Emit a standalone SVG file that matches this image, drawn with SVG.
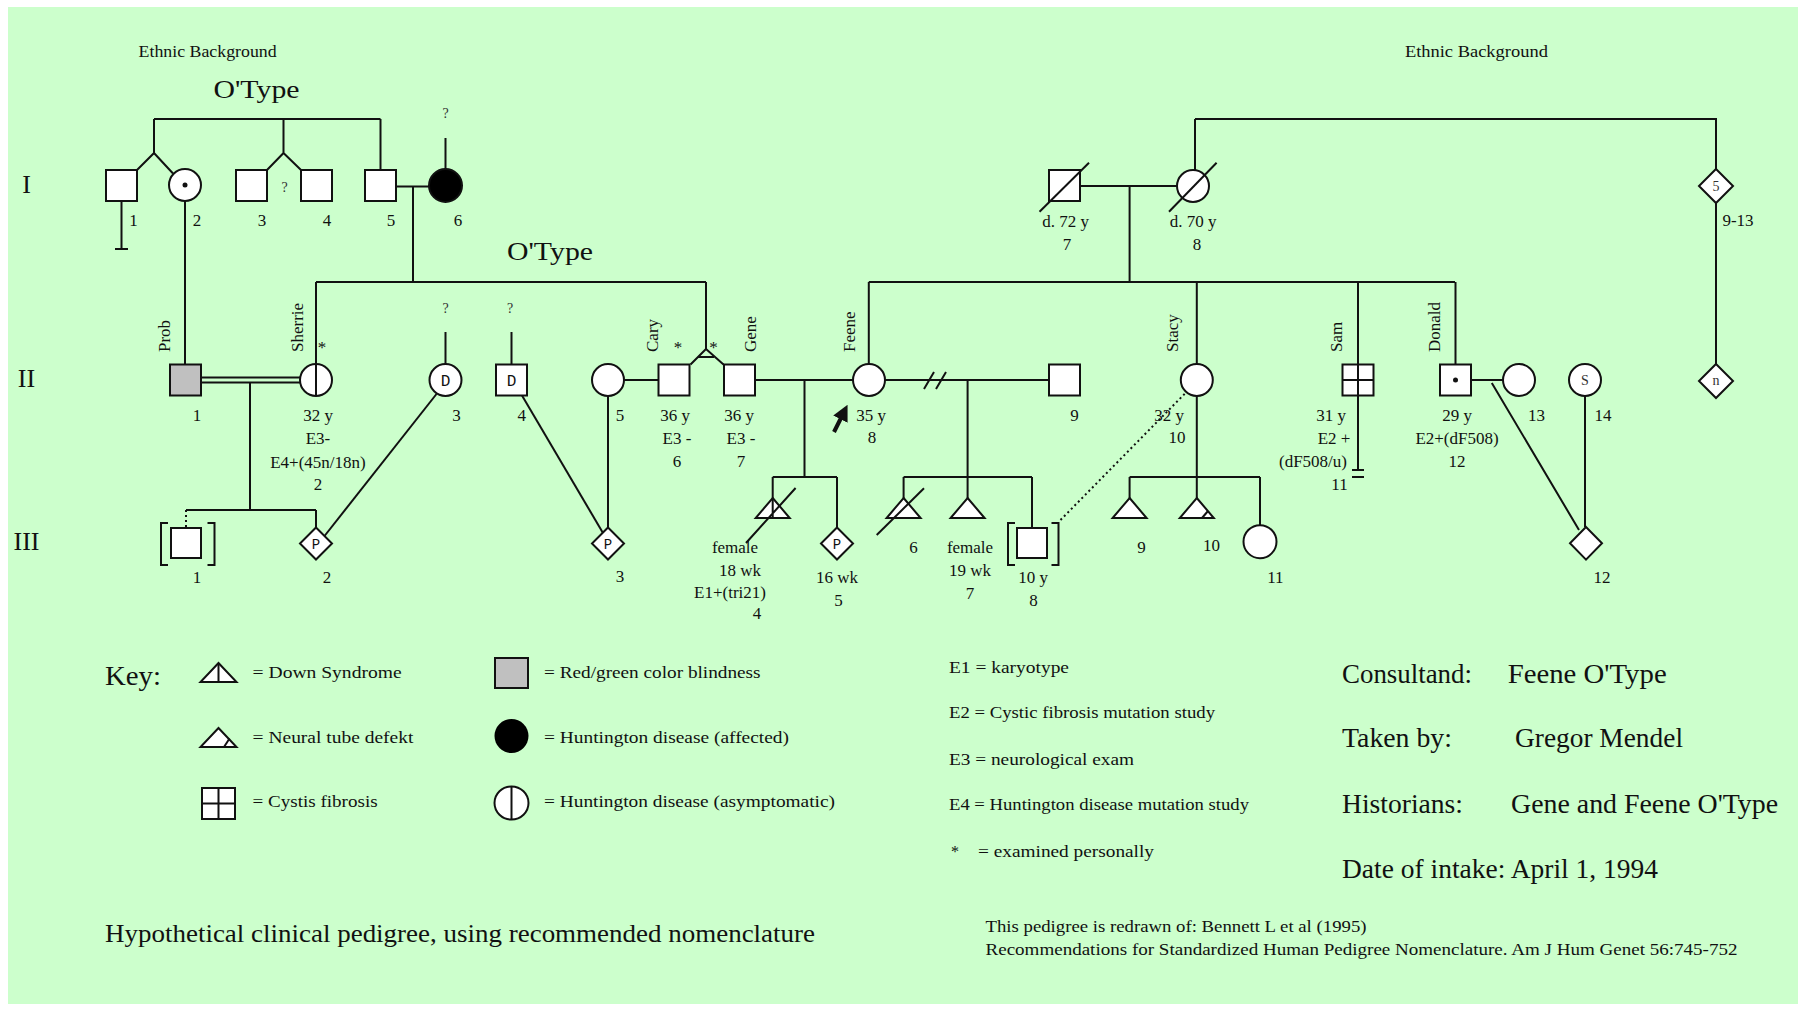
<svg xmlns="http://www.w3.org/2000/svg" width="1806" height="1010" viewBox="0 0 1806 1010">
<defs>
<style>
.ln{stroke:#111;stroke-width:2;fill:none}
.dl{stroke:#111;stroke-width:2;fill:none;stroke-dasharray:2 3}
.sym{stroke:#111;stroke-width:2;fill:#fff}
.t{font-family:"Liberation Serif","Times New Roman",serif;font-size:17px;fill:#111}
.tc{font-family:"Liberation Serif","Times New Roman",serif;font-size:17px;fill:#111;text-anchor:middle}
.s{font-family:"Liberation Serif","Times New Roman",serif;font-size:16px;fill:#111}
.L{font-family:"Liberation Serif","Times New Roman",serif;font-size:27px;fill:#111}
.Lc{font-family:"Liberation Serif","Times New Roman",serif;font-size:26px;fill:#111;text-anchor:middle}
.m{font-family:"Liberation Mono","Courier New",monospace;font-size:16px;fill:#111;text-anchor:middle}
.in{font-family:"Liberation Serif","Times New Roman",serif;font-size:14px;fill:#333;text-anchor:middle}
</style>
<marker id="arr" viewBox="0 0 10 10" refX="5" refY="5" markerWidth="4" markerHeight="4" orient="auto"><path d="M0,0 L10,5 L0,10 z" fill="#111"/></marker>
</defs>
<rect x="0" y="0" width="1806" height="1010" fill="#fff"/>
<rect x="8" y="7" width="1790" height="997" fill="#ccffcc"/>

<!-- labels -->
<g id="headers">
<text class="s" x="207.6" y="57" text-anchor="middle" textLength="138" lengthAdjust="spacingAndGlyphs">Ethnic Background</text>
<text class="s" x="1476.4" y="57" text-anchor="middle" textLength="143" lengthAdjust="spacingAndGlyphs">Ethnic Background</text>
<text class="Lc" x="256.5" y="98" textLength="86" lengthAdjust="spacingAndGlyphs">O'Type</text>
<text class="Lc" x="550" y="260" textLength="86" lengthAdjust="spacingAndGlyphs">O'Type</text>
<text class="Lc" x="26.5" y="193">I</text>
<text class="Lc" x="26.5" y="387">II</text>
<text class="Lc" x="26.5" y="550">III</text>
</g>

<!-- connectors -->
<g id="connectors">
<path class="ln" d="M154,119 H380.5"/>
<path class="ln" d="M154,119 V153 L137,170 M154,153 L173,173.5"/>
<path class="ln" d="M283.5,119 V153 L267,170 M283.5,153 L301,170"/>
<path class="ln" d="M380.5,119 V170"/>
<path class="ln" d="M121.5,200 V249 M115,249 H128"/>
<path class="ln" d="M185,201 V364.5"/>
<path class="ln" d="M445.5,138 V169"/>
<path class="ln" d="M396,186.5 H429.5"/>
<path class="ln" d="M413,186.5 V282"/>
<path class="ln" d="M1195,119 H1716 V169"/>
<path class="ln" d="M1195,119 V170"/>
<path class="ln" d="M1080,186 H1177"/>
<path class="ln" d="M1129.6,186 V282"/>
<path class="ln" d="M1716,203 V364"/>
<path class="ln" d="M316,282 H706 M316,282 V364 M706,282 V349"/>
<path class="ln" d="M706,349 L690.5,364.5 M706,349 L723.5,364.5 M698,357 H714"/>
<path class="ln" d="M868.8,282 H1455 M868.8,282 V364 M1196.8,282 V364 M1358,282 V364.5 M1455.5,282 V364.5"/>
<path class="ln" d="M201,377.5 H300 M201,382.5 H300"/>
<path class="ln" d="M250,382.5 V510 M186,510 H316 M316,510 V527.5"/>
<path class="dl" d="M186,510 V528"/>
<path class="ln" d="M445.5,332 V364 M511.5,332 V364.5"/>
<path class="ln" d="M436.5,394 L324.5,536"/>
<path class="ln" d="M522,395.5 L603,533"/>
<path class="ln" d="M624,380 H658 M608,396 V527.5"/>
<path class="ln" d="M755,380 H853 M804.5,380 V477 M772.7,477 H837 M772.7,477 V498 M837,477 V527.5"/>
<path class="ln" d="M885,380 H1049 M967.6,380 V477 M903.6,477 H1032 M903.6,477 V498 M967.6,477 V498 M1032,477 V528"/>
<path class="ln" d="M924,389 L934,372 M936,389 L946,372"/>
<path class="dl" d="M1060.5,520 L1185,393.5"/>
<path class="ln" d="M1196.8,396 V498 M1129.6,477 H1260 M1129.6,477 V498 M1260,477 V525"/>
<path class="ln" d="M1358,395.5 V470 M1352,470 H1364 M1352,477 H1364"/>
<path class="ln" d="M1471,380 H1503 M1491.8,383 L1579,530"/>
<path class="ln" d="M1585,396 V527"/>
<path d="M834,432 L844,412" stroke="#111" stroke-width="4" fill="none" marker-end="url(#arr)"/>
</g>

<!-- Generation I -->
<g id="I-1"><rect class="sym" x="106" y="170" width="31" height="31"/><text class="tc" x="133.6" y="226">1</text></g>
<g id="I-2"><circle class="sym" cx="185" cy="185" r="16"/><circle cx="185" cy="185" r="2.5" fill="#111"/><text class="tc" x="197" y="226">2</text></g>
<g id="I-3"><rect class="sym" x="236" y="170" width="31" height="31"/><text class="tc" x="262" y="226">3</text></g>
<g id="I-3-4-q"><text class="in" x="284.5" y="192">?</text></g>
<g id="I-4"><rect class="sym" x="301" y="170" width="31" height="31"/><text class="tc" x="327" y="226">4</text></g>
<g id="I-5"><rect class="sym" x="365" y="170" width="31" height="31"/><text class="tc" x="391" y="226">5</text></g>
<g id="I-6"><circle cx="445.5" cy="185.5" r="16.5" fill="#000" stroke="#111" stroke-width="2"/><text class="in" x="445.5" y="118">?</text><text class="tc" x="458" y="226">6</text></g>
<g id="I-7"><rect class="sym" x="1049" y="170" width="31" height="31"/><path class="ln" d="M1039.5,211.7 L1089,162.7"/><text class="tc" x="1065.6" y="226.5">d. 72 y</text><text class="tc" x="1067" y="250">7</text></g>
<g id="I-8"><circle class="sym" cx="1193" cy="186" r="16"/><path class="ln" d="M1169,211.7 L1216.6,162.7"/><text class="tc" x="1193" y="226.5">d. 70 y</text><text class="tc" x="1197" y="250">8</text></g>
<g id="I-9-13"><path class="sym" d="M1716,169 L1733,186 L1716,203 L1699,186 Z"/><text class="in" x="1716" y="191">5</text><text class="tc" x="1738" y="226">9-13</text></g>

<!-- Generation II -->
<g id="II-1"><rect x="170" y="364.5" width="31" height="31" fill="#c0c0c0" stroke="#111" stroke-width="2"/><text class="t" transform="translate(170,352) rotate(-90)">Prob</text><text class="tc" x="197" y="421">1</text></g>
<g id="II-2"><circle class="sym" cx="316" cy="380" r="16"/><path class="ln" d="M316,364 V396"/><text class="t" transform="translate(303,352) rotate(-90)">Sherrie</text><text class="tc" x="322" y="352.5">*</text>
<text class="tc" x="318" y="421">32 y</text><text class="tc" x="318" y="444">E3-</text><text class="tc" x="318" y="467.5">E4+(45n/18n)</text><text class="tc" x="318" y="489.5">2</text></g>
<g id="II-3"><circle class="sym" cx="445.5" cy="380" r="16"/><text class="m" x="445.5" y="385.5">D</text><text class="in" x="445.5" y="313">?</text><text class="tc" x="456.5" y="421">3</text></g>
<g id="II-4"><rect class="sym" x="496" y="364.5" width="31" height="31"/><text class="m" x="511.5" y="385.5">D</text><text class="in" x="510" y="313">?</text><text class="tc" x="521.7" y="421">4</text></g>
<g id="II-5"><circle class="sym" cx="608" cy="380" r="16"/><text class="tc" x="620" y="421">5</text></g>
<g id="II-6"><rect class="sym" x="658.5" y="364.5" width="31" height="31"/><text class="t" transform="translate(658,352) rotate(-90)">Cary</text><text class="tc" x="678" y="352.5">*</text>
<text class="tc" x="675" y="421">36 y</text><text class="tc" x="677" y="444">E3 -</text><text class="tc" x="677" y="466.5">6</text></g>
<g id="II-7"><rect class="sym" x="724" y="364.5" width="31" height="31"/><text class="t" transform="translate(756,352) rotate(-90)">Gene</text><text class="tc" x="713.5" y="352.5">*</text>
<text class="tc" x="739" y="421">36 y</text><text class="tc" x="741" y="444">E3 -</text><text class="tc" x="741" y="466.5">7</text></g>
<g id="II-8"><circle class="sym" cx="869" cy="380" r="16"/><text class="t" transform="translate(855,352) rotate(-90)">Feene</text><text class="tc" x="871" y="421">35 y</text><text class="tc" x="872" y="443">8</text></g>
<g id="II-9"><rect class="sym" x="1049" y="364.5" width="31" height="31"/><text class="tc" x="1074.5" y="421">9</text></g>
<g id="II-10"><circle class="sym" cx="1196.8" cy="380" r="16"/><text class="t" transform="translate(1178,352) rotate(-90)">Stacy</text><text class="tc" x="1169" y="421">32 y</text><text class="tc" x="1177" y="443">10</text></g>
<g id="II-11"><rect class="sym" x="1342.5" y="364.5" width="31" height="31"/><path class="ln" d="M1358,364.5 V395.5 M1342.5,380 H1373.5"/><text class="t" transform="translate(1342,352) rotate(-90)">Sam</text>
<text class="tc" x="1331" y="421">31 y</text><text class="tc" x="1334" y="443.5">E2 +</text><text class="tc" x="1313" y="467">(dF508/u)</text><text class="tc" x="1339.5" y="489.5">11</text></g>
<g id="II-12"><rect class="sym" x="1440" y="364.5" width="31" height="31"/><circle cx="1455.5" cy="380" r="2.5" fill="#111"/><text class="t" transform="translate(1440,352) rotate(-90)">Donald</text>
<text class="tc" x="1457" y="421">29 y</text><text class="tc" x="1457" y="444">E2+(dF508)</text><text class="tc" x="1457" y="467">12</text></g>
<g id="II-13"><circle class="sym" cx="1519" cy="380" r="16"/><text class="tc" x="1536.5" y="421">13</text></g>
<g id="II-14"><circle class="sym" cx="1585" cy="380" r="16"/><text class="in" x="1585" y="385">S</text><text class="tc" x="1603" y="421">14</text></g>
<g id="II-n"><path class="sym" d="M1716,364 L1733,381 L1716,398 L1699,381 Z"/><text class="in" x="1716" y="385">n</text></g>

<!-- Generation III -->
<g id="III-1"><rect class="sym" x="171" y="528" width="30" height="30"/><path class="ln" d="M168,523 H161 V565 H168 M207.5,523 H214.5 V565 H207.5"/><text class="tc" x="197" y="582.5">1</text></g>
<g id="III-2"><path class="sym" d="M316,527.5 L332,543.5 L316,559.5 L300,543.5 Z"/><text class="m" x="316" y="548.5" style="font-size:14px">P</text><text class="tc" x="327" y="582.5">2</text></g>
<g id="III-3"><path class="sym" d="M608,527.5 L624,543.5 L608,559.5 L592,543.5 Z"/><text class="m" x="608" y="548.5" style="font-size:14px">P</text><text class="tc" x="620" y="582">3</text></g>
<g id="III-4"><path class="sym" d="M772.7,498 L789.7,518 L755.7,518 Z"/><path class="ln" d="M772.7,498 V518 M746,543 L795.6,488"/>
<text class="tc" x="735" y="552.5">female</text><text class="tc" x="740" y="576">18 wk</text><text class="tc" x="730" y="597.5">E1+(tri21)</text><text class="tc" x="757" y="619">4</text></g>
<g id="III-5"><path class="sym" d="M837,527.5 L853,543.5 L837,559.5 L821,543.5 Z"/><text class="m" x="837" y="548.5" style="font-size:14px">P</text><text class="tc" x="837" y="582.5">16 wk</text><text class="tc" x="838.5" y="606">5</text></g>
<g id="III-6"><path class="sym" d="M903.6,498 L920.6,518 L886.6,518 Z"/><path class="ln" d="M876.7,535 L924,488.3"/><text class="tc" x="913.4" y="552.5">6</text></g>
<g id="III-7"><path class="sym" d="M967.6,498 L984.6,518 L950.6,518 Z"/><text class="tc" x="970" y="552.5">female</text><text class="tc" x="970" y="576">19 wk</text><text class="tc" x="970" y="599">7</text></g>
<g id="III-8"><rect class="sym" x="1017" y="528" width="30" height="30"/><path class="ln" d="M1015,523 H1008 V565 H1015 M1051.5,523 H1058.5 V565 H1051.5"/><text class="tc" x="1033" y="582.5">10 y</text><text class="tc" x="1033.6" y="606">8</text></g>
<g id="III-9"><path class="sym" d="M1129.6,498 L1146.6,518 L1112.6,518 Z"/><text class="tc" x="1141.5" y="552.5">9</text></g>
<g id="III-10"><path class="sym" d="M1196.8,498 L1213.8,518 L1179.8,518 Z"/><path class="ln" d="M1202,518 L1208,511"/><text class="tc" x="1211.6" y="551">10</text></g>
<g id="III-11"><circle class="sym" cx="1260" cy="541.7" r="16.5"/><text class="tc" x="1275.4" y="582.5">11</text></g>
<g id="III-12"><path class="sym" d="M1586,527 L1602,543.3 L1586,559.6 L1570,543.3 Z"/><text class="tc" x="1602" y="582.5">12</text></g>

<!-- Key -->
<g id="key">
<text class="L" x="105" y="685" textLength="56" lengthAdjust="spacingAndGlyphs">Key:</text>
<path class="sym" d="M218.5,663 L236.5,682 L200.5,682 Z"/><path class="ln" d="M218.5,663 V682"/>
<text class="s" x="252.6" y="678" textLength="149" lengthAdjust="spacingAndGlyphs">= Down Syndrome</text>
<path class="sym" d="M218.5,728 L236.5,747 L200.5,747 Z"/><path class="ln" d="M224,747 L229.5,738.5"/>
<text class="s" x="252.6" y="743.3" textLength="160.7" lengthAdjust="spacingAndGlyphs">= Neural tube defekt</text>
<rect class="sym" x="202" y="788" width="33" height="31"/><path class="ln" d="M218.5,788 V819 M202,803.5 H235"/>
<text class="s" x="252.6" y="806.7" textLength="125" lengthAdjust="spacingAndGlyphs">= Cystis fibrosis</text>
<rect x="495" y="658" width="33" height="30" fill="#c0c0c0" stroke="#111" stroke-width="2"/>
<text class="s" x="544" y="678" textLength="216.6" lengthAdjust="spacingAndGlyphs">= Red/green color blindness</text>
<circle cx="511.5" cy="736" r="17" fill="#000"/>
<text class="s" x="544" y="742.7" textLength="245" lengthAdjust="spacingAndGlyphs">= Huntington disease (affected)</text>
<ellipse class="sym" cx="511.5" cy="803" rx="17" ry="16.5"/><path class="ln" d="M511.5,786.5 V819.5"/>
<text class="s" x="544" y="806.7" textLength="291" lengthAdjust="spacingAndGlyphs">= Huntington disease (asymptomatic)</text>
<text class="L" x="105" y="941.7" style="font-size:26px" textLength="710" lengthAdjust="spacingAndGlyphs">Hypothetical clinical pedigree, using recommended nomenclature</text>
</g>

<g id="exams">
<text class="s" x="949" y="673.3" textLength="120" lengthAdjust="spacingAndGlyphs">E1 = karyotype</text>
<text class="s" x="949" y="718.3" textLength="266" lengthAdjust="spacingAndGlyphs">E2 = Cystic fibrosis mutation study</text>
<text class="s" x="949" y="765" textLength="185" lengthAdjust="spacingAndGlyphs">E3 = neurological exam</text>
<text class="s" x="949" y="810" textLength="300" lengthAdjust="spacingAndGlyphs">E4 = Huntington disease mutation study</text>
<text class="s" x="951" y="856.7">*</text>
<text class="s" x="978" y="856.7" textLength="176" lengthAdjust="spacingAndGlyphs">= examined personally</text>
</g>

<g id="info">
<text class="L" x="1342" y="683" textLength="130" lengthAdjust="spacingAndGlyphs">Consultand:</text>
<text class="L" x="1507.7" y="683" textLength="159" lengthAdjust="spacingAndGlyphs">Feene O'Type</text>
<text class="L" x="1342" y="746.7" textLength="110" lengthAdjust="spacingAndGlyphs">Taken by:</text>
<text class="L" x="1515" y="746.7" textLength="168" lengthAdjust="spacingAndGlyphs">Gregor Mendel</text>
<text class="L" x="1342" y="813" textLength="121" lengthAdjust="spacingAndGlyphs">Historians:</text>
<text class="L" x="1511" y="813" textLength="267" lengthAdjust="spacingAndGlyphs">Gene and Feene O'Type</text>
<text class="L" x="1342" y="878" textLength="316" lengthAdjust="spacingAndGlyphs">Date of intake: April 1, 1994</text>
</g>

<g id="reference">
<text class="s" x="985.5" y="932" textLength="381" lengthAdjust="spacingAndGlyphs">This pedigree is redrawn of: Bennett L et al (1995)</text>
<text class="s" x="985.5" y="955" textLength="752" lengthAdjust="spacingAndGlyphs">Recommendations for Standardized Human Pedigree Nomenclature. Am J Hum Genet 56:745-752</text>
</g>
</svg>
